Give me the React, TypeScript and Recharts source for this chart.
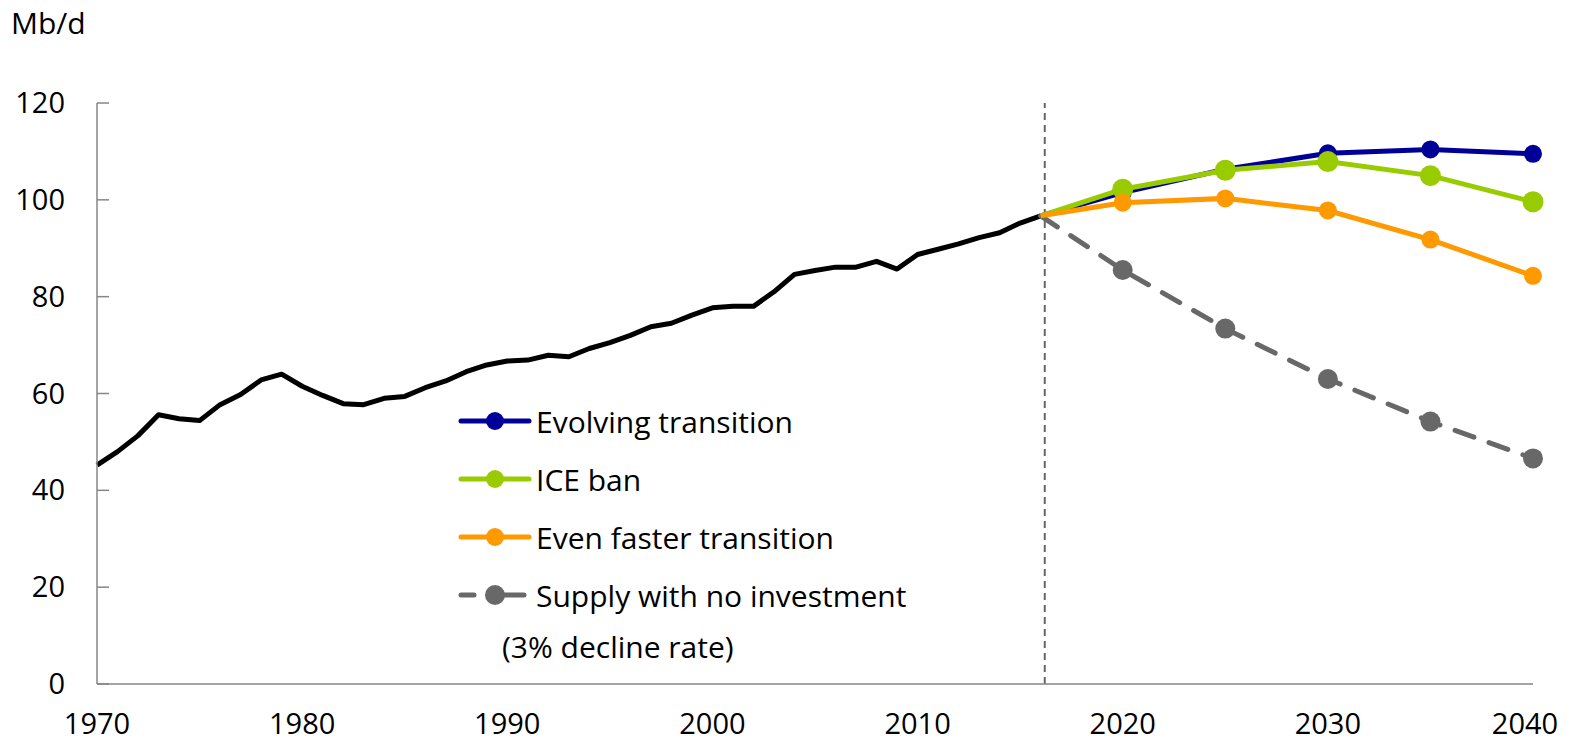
import {
  LineChart, Line, XAxis, YAxis, ReferenceLine, Legend,
} from 'recharts';

const histYears = [
  1970, 1971, 1972, 1973, 1974, 1975, 1976, 1977, 1978, 1979,
  1980, 1981, 1982, 1983, 1984, 1985, 1986, 1987, 1988, 1989,
  1990, 1991, 1992, 1993, 1994, 1995, 1996, 1997, 1998, 1999,
  2000, 2001, 2002, 2003, 2004, 2005, 2006, 2007, 2008, 2009,
  2010, 2011, 2012, 2013, 2014, 2015, 2016,
];
const histValues = [
  45.2, 48.0, 51.3, 55.6, 54.8, 54.4, 57.7, 59.8, 62.8, 64.0,
  61.5, 59.6, 57.9, 57.7, 59.0, 59.4, 61.2, 62.6, 64.5, 65.9,
  66.7, 66.9, 67.9, 67.6, 69.3, 70.5, 72.0, 73.8, 74.5, 76.2,
  77.7, 78.0, 78.0, 81.0, 84.6, 85.4, 86.1, 86.1, 87.3, 85.7,
  88.7, 89.8, 90.9, 92.2, 93.2, 95.2, 96.7,
];

const projYears = [2016, 2020, 2025, 2030, 2035, 2040];
const evolving = [96.7, 101.5, 106.3, 109.6, 110.4, 109.5];
const iceBan = [96.7, 102.2, 106.1, 107.9, 105.0, 99.6];
const evenFaster = [96.7, 99.4, 100.3, 97.8, 91.8, 84.3];
const noInvestment = [96.7, 85.5, 73.4, 63.0, 54.2, 46.6];

const xTicks = [1970, 1980, 1990, 2000, 2010, 2020, 2030, 2040];
const yTicks = [0, 20, 40, 60, 80, 100, 120];

const FONT = '"Open Sans", Lato, sans-serif';
const FS = 29;
const LEGEND_FS = 30;

type Row = { year: number; hist?: number; evolving?: number; ice?: number; faster?: number; none?: number };

const rows: Row[] = histYears.map((year, i) => ({ year, hist: histValues[i] }));
projYears.forEach((year, i) => {
  let row = rows.find((r) => r.year === year);
  if (!row) {
    row = { year };
    rows.push(row);
  }
  row.evolving = evolving[i];
  row.ice = iceBan[i];
  row.faster = evenFaster[i];
  row.none = noInvestment[i];
});

const legendItems = [
  { label: 'Evolving transition', color: '#000099', dashed: false },
  { label: 'ICE ban', color: '#99cc00', dashed: false },
  { label: 'Even faster transition', color: '#ff9900', dashed: false },
  { label: 'Supply with no investment', color: '#686868', dashed: true },
];

function makeDot(color: string, r: number) {
  return (props: any) => {
    const { cx, cy, payload, index } = props;
    if (payload.year === 2016 || cx == null || cy == null) return <g key={`d-${color}-${index}`} />;
    return <circle key={`d-${color}-${index}`} cx={cx} cy={cy} r={r} fill={color} stroke="none" />;
  };
}

function XTick({ x, y, payload }: any) {
  const shift = payload.value === 2040 ? -8 : 0;
  return (
    <text x={x + shift} y={y + 50} textAnchor="middle" fontSize={FS} fill="#000" fontFamily={FONT}>
      {payload.value}
    </text>
  );
}

function YTick({ x, y, payload }: any) {
  return (
    <g>
      <line x1={x} x2={x + 12} y1={y} y2={y} stroke="#868686" strokeWidth={1.5} />
      <text x={x - 32} y={y + 10} textAnchor="end" fontSize={FS} fill="#000" fontFamily={FONT}>
        {payload.value}
      </text>
    </g>
  );
}

function LegendBox() {
  return (
    <div style={{ fontFamily: FONT, fontSize: LEGEND_FS, color: '#000' }}>
      {legendItems.map((it) => (
        <div key={it.label} style={{ display: 'flex', alignItems: 'center', height: 58 }}>
          <svg width={78} height={24} style={{ flex: 'none' }}>
            {it.dashed ? (
              <>
                <line x1={3} x2={16} y1={12} y2={12} stroke={it.color} strokeWidth={5} strokeLinecap="round" />
                <line x1={30} x2={66} y1={12} y2={12} stroke={it.color} strokeWidth={5} strokeLinecap="round" />
              </>
            ) : (
              <line x1={3} x2={71} y1={12} y2={12} stroke={it.color} strokeWidth={5} strokeLinecap="round" />
            )}
            <circle cx={37} cy={12} r={it.dashed ? 10 : 9} fill={it.color} />
          </svg>
          <span style={{ whiteSpace: 'nowrap' }}>{it.label}</span>
        </div>
      ))}
      <div style={{ marginLeft: 44, marginTop: -6, height: 58, lineHeight: '58px', whiteSpace: 'nowrap' }}>
        (3% decline rate)
      </div>
    </div>
  );
}

export default function App() {
  return (
    <div style={{ position: 'absolute', left: 0, top: 0, width: 1573, height: 745, background: '#fff' }}>
      <div
        style={{
          position: 'absolute', left: 11, top: 2, fontFamily: FONT, fontSize: 30, color: '#000',
        }}
      >
        Mb/d
      </div>
      <LineChart width={1573} height={745} data={rows} margin={{ top: 103, right: 40, bottom: 0, left: 0 }}>
        <XAxis
          dataKey="year"
          type="number"
          domain={[1970, 2040]}
          ticks={xTicks}
          tick={<XTick />}
          tickLine={false}
          tickSize={0}
          tickMargin={0}
          height={61}
          axisLine={{ stroke: '#868686', strokeWidth: 1.5 }}
          interval={0}
        />
        <YAxis
          type="number"
          domain={[0, 120]}
          ticks={yTicks}
          tick={<YTick />}
          tickLine={false}
          tickSize={0}
          tickMargin={0}
          width={97}
          axisLine={{ stroke: '#868686', strokeWidth: 1.5 }}
          interval={0}
        />
        <ReferenceLine x={2016.2} stroke="#666" strokeWidth={2} strokeDasharray="7 5" />
        <Line dataKey="hist" stroke="#000" strokeWidth={5} dot={false} isAnimationActive={false} strokeLinejoin="round" />
        <Line
          dataKey="none"
          stroke="#686868"
          strokeWidth={5}
          strokeDasharray="20 16"
          strokeLinecap="round"
          dot={makeDot('#686868', 10)}
          isAnimationActive={false}
        />
        <Line dataKey="evolving" stroke="#000099" strokeWidth={5} dot={makeDot('#000099', 9)} isAnimationActive={false} />
        <Line dataKey="ice" stroke="#99cc00" strokeWidth={5} dot={makeDot('#99cc00', 10.5)} isAnimationActive={false} />
        <Line dataKey="faster" stroke="#ff9900" strokeWidth={5} dot={makeDot('#ff9900', 9)} isAnimationActive={false} />
        <Legend
          layout="vertical"
          align="center"
          verticalAlign="middle"
          content={<LegendBox />}
          wrapperStyle={{ position: 'absolute', left: 458, top: 392, width: 500 }}
        />
      </LineChart>
    </div>
  );
}
